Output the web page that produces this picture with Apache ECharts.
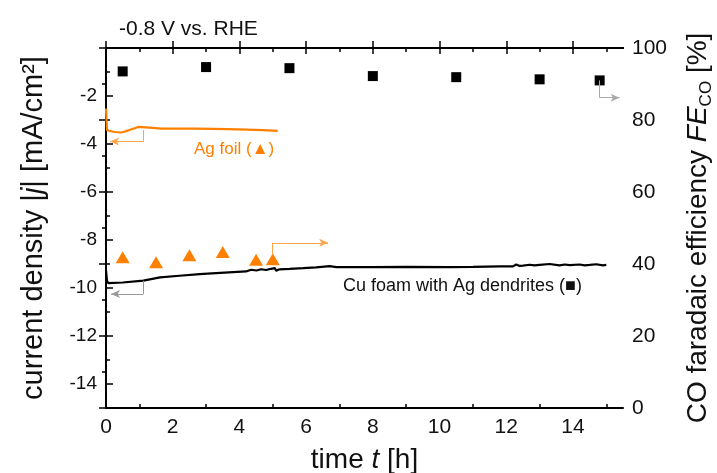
<!DOCTYPE html>
<html>
<head>
<meta charset="utf-8">
<script src="https://cdn.jsdelivr.net/npm/echarts@6/dist/echarts.min.js"></script>
<style>
  html, body { margin: 0; padding: 0; background: #fff; }
  #main { width: 717px; height: 473px; }
</style>
</head>
<body>
<div id="main"></div>
<script>
// FE points (right axis, %)
var feTimes = [0.5, 3, 5.5, 8, 10.5, 13, 14.8];
var feCuAg = [93.5, 94.7, 94.4, 92.2, 91.9, 91.3, 91.0];
var agTimes = [0.5, 1.5, 2.5, 3.5, 4.5, 5];
var feAgFoil = [41.9, 40.5, 42.4, 43.3, 41.2, 41.3];

// current density traces (left axis, mA/cm2)
var agLineT = [0, 0.03, 0.1, 0.25, 0.47, 0.7, 0.97, 1.3, 1.67, 2.2, 2.66, 3.2, 3.66, 4.2, 4.7, 5.15];
var agLineJ = [-2.52, -3.42, -3.45, -3.5, -3.52, -3.42, -3.29, -3.32, -3.36, -3.36, -3.36, -3.37, -3.38, -3.4, -3.42, -3.45];
var cuLineT = [0, 0.03, 0.07, 0.5, 1.12, 1.62, 2.2, 2.81, 3.3, 3.81, 4.2, 4.35, 4.51, 4.65, 4.8, 4.95, 5.06, 5.1, 5.2, 5.5, 5.91, 6.3, 6.71, 6.9, 8, 9, 10.3, 11, 11.8, 12.2, 12.3, 12.4, 12.5, 12.7, 12.85, 13, 13.3, 13.6, 13.75, 13.9, 14.2, 14.35, 14.5, 14.7, 14.9, 15];
var cuLineJ = [-9.25, -9.7, -9.8, -9.77, -9.69, -9.56, -9.49, -9.42, -9.38, -9.34, -9.31, -9.24, -9.27, -9.22, -9.25, -9.2, -9.17, -9.28, -9.22, -9.2, -9.17, -9.14, -9.09, -9.13, -9.13, -9.12, -9.13, -9.12, -9.1, -9.1, -9.02, -9.08, -9.07, -9.03, -9.06, -9.04, -9.0, -9.06, -9.02, -9.05, -9.02, -9.06, -9.04, -9.01, -9.06, -9.04];

// tick values
var xMajor = [0, 2, 4, 6, 8, 10, 12, 14];
var xMinor = [1, 3, 5, 7, 9, 11, 13, 15];
var jMajor = [-14, -12, -10, -8, -6, -4, -2];
var jMinor = [-15, -13, -11, -9, -7, -5, -3, -1];

var orange = '#ff8000';
var font = 'Liberation Sans';

function zip(a, b) {
    return a.map(function (v, i) { return [v, b[i]]; });
}

function tickAxis(pos, vals, len, labels) {
    return {
        type: 'value', position: pos, min: 0, max: 15.5,
        axisLine: { show: true, lineStyle: { color: '#000', width: 2 } },
        axisTick: { show: true, inside: true, length: len, customValues: vals, lineStyle: { color: '#000', width: 1.5 } },
        axisLabel: labels ? { show: true, customValues: vals, fontSize: 21, color: '#111', fontFamily: font, margin: 9 } : { show: false },
        splitLine: { show: false }
    };
}

var xBottom = tickAxis('bottom', xMajor, 7, true);
xBottom.name = 'time {i|t} [h]';
xBottom.nameLocation = 'middle';
xBottom.nameGap = 38;
xBottom.nameTextStyle = { fontSize: 28, color: '#111', fontFamily: font, rich: { i: { fontSize: 28, fontStyle: 'italic', fontFamily: font, color: '#111' } } };

var chart = echarts.init(document.getElementById('main'));
chart.setOption({
    animation: false,
    backgroundColor: '#fff',
    title: {
        text: '-0.8 V vs. RHE', left: 114, top: 14,
        textStyle: { fontSize: 21, fontWeight: 'normal', color: '#111', fontFamily: font }
    },
    grid: { left: 106, right: 94, top: 48, bottom: 65, outerBoundsMode: 'none' },
    xAxis: [
        xBottom,
        tickAxis('bottom', xMinor, 4, false),
        tickAxis('top', xMajor, 6, false),
        tickAxis('top', xMinor, 4, false)
    ],
    yAxis: [
        {
            type: 'value', position: 'left', min: -15, max: 0,
            axisLine: { show: true, lineStyle: { color: '#000', width: 2 } },
            axisTick: { show: true, inside: true, length: 7, customValues: jMajor, lineStyle: { color: '#000', width: 1.5 } },
            axisLabel: { customValues: jMajor, fontSize: 19, color: '#111', fontFamily: font, margin: 9 },
            splitLine: { show: false },
            name: 'current density |{i|j}| [mA/cm²]',
            nameLocation: 'middle', nameRotate: 90, nameGap: 58,
            nameTextStyle: { fontSize: 29, color: '#111', fontFamily: font, rich: { i: { fontSize: 29, fontStyle: 'italic', fontFamily: font, color: '#111' } } }
        },
        {
            type: 'value', position: 'right', min: 0, max: 100, interval: 20,
            axisLine: { show: true, lineStyle: { color: '#000', width: 2 } },
            axisTick: { show: true, inside: true, length: 7, lineStyle: { color: '#000', width: 1.5 } },
            minorTick: { show: true, splitNumber: 2, length: 4, lineStyle: { color: '#000', width: 1.5 } },
            axisLabel: { fontSize: 21, color: '#111', fontFamily: font, margin: 9 },
            splitLine: { show: false },
            name: 'CO faradaic efficiency {i|FE}{s|CO} [%]',
            nameLocation: 'middle', nameRotate: 90, nameGap: 58,
            nameTextStyle: {
                fontSize: 28, color: '#111', fontFamily: font, lineHeight: 34,
                rich: {
                    i: { fontSize: 28, fontStyle: 'italic', fontFamily: font, color: '#111', lineHeight: 34 },
                    s: { fontSize: 17, fontFamily: font, color: '#111', lineHeight: 17, verticalAlign: 'bottom' }
                }
            }
        },
        {
            type: 'value', position: 'left', min: -15, max: 0,
            axisLine: { show: false },
            axisTick: { show: true, inside: true, length: 4, customValues: jMinor, lineStyle: { color: '#000', width: 1.5 } },
            axisLabel: { show: false },
            splitLine: { show: false }
        }
    ],
    graphic: [
        { type: 'text', left: 194, top: 141, style: { text: 'Ag foil (▲)', font: '17px "Liberation Sans"', fill: orange } },
        { type: 'text', left: 343, top: 277, style: { text: 'Cu foam with Ag dendrites (■)', font: '18px "Liberation Sans"', fill: '#111' } }
    ],
    series: [
        {
            name: 'Ag foil j', type: 'line', xAxisIndex: 0, yAxisIndex: 0,
            data: zip(agLineT, agLineJ), showSymbol: false, symbol: 'none',
            lineStyle: { color: orange, width: 2.2 }, z: 3,
            markLine: {
                silent: true, animation: false, label: { show: false },
                lineStyle: { color: '#ffa64d', width: 1, type: 'solid' },
                data: [
                    [{ coord: [1.12, -3.42], symbol: 'none' }, { coord: [1.12, -3.9], symbol: 'none' }],
                    [{ coord: [1.12, -3.9], symbol: 'none' }, { coord: [0.12, -3.9], symbol: 'arrow', symbolSize: [6, 9] }]
                ]
            }
        },
        {
            name: 'Cu foam j', type: 'line', xAxisIndex: 0, yAxisIndex: 0,
            data: zip(cuLineT, cuLineJ), showSymbol: false, symbol: 'none',
            lineStyle: { color: '#000', width: 2.2 }, z: 3,
            markLine: {
                silent: true, animation: false, label: { show: false },
                lineStyle: { color: '#999', width: 1, type: 'solid' },
                data: [
                    [{ coord: [1.12, -9.7], symbol: 'none' }, { coord: [1.12, -10.25], symbol: 'none' }],
                    [{ coord: [1.12, -10.25], symbol: 'none' }, { coord: [0.15, -10.25], symbol: 'arrow', symbolSize: [6, 9], itemStyle: { color: '#000' } }]
                ]
            }
        },
        {
            name: 'FE Cu foam', type: 'scatter', xAxisIndex: 0, yAxisIndex: 1,
            data: zip(feTimes, feCuAg), symbol: 'rect', symbolSize: 10,
            itemStyle: { color: '#000', opacity: 1 }, z: 4,
            markLine: {
                silent: true, animation: false, label: { show: false },
                lineStyle: { color: '#aaa', width: 1, type: 'solid' },
                data: [
                    [{ coord: [14.8, 91], symbol: 'none' }, { coord: [14.8, 86.2], symbol: 'none' }],
                    [{ coord: [14.8, 86.2], symbol: 'none' }, { coord: [15.4, 86.2], symbol: 'arrow', symbolSize: [6, 9], itemStyle: { color: '#000' } }]
                ]
            }
        },
        {
            name: 'FE Ag foil', type: 'scatter', xAxisIndex: 0, yAxisIndex: 1,
            data: zip(agTimes, feAgFoil), symbol: 'triangle', symbolSize: [14, 12],
            itemStyle: { color: orange, opacity: 1 }, z: 4,
            markLine: {
                silent: true, animation: false, label: { show: false },
                lineStyle: { color: '#ffa64d', width: 1, type: 'solid' },
                data: [
                    [{ coord: [4.99, 42.5], symbol: 'none' }, { coord: [4.99, 45.9], symbol: 'none' }],
                    [{ coord: [4.99, 45.9], symbol: 'none' }, { coord: [6.66, 45.9], symbol: 'arrow', symbolSize: [6, 9], itemStyle: { color: orange } }]
                ]
            }
        }
    ]
});
</script>
</body>
</html>
